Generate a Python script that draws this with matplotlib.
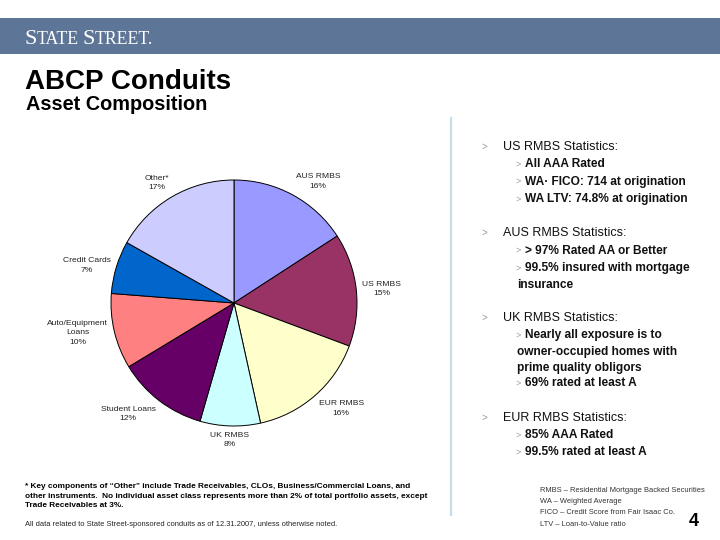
import matplotlib
matplotlib.use("Agg")
import numpy as np
from matplotlib import pyplot as plt
from matplotlib.patches import Rectangle

plt.rcParams['font.family'] = ['Liberation Sans', 'DejaVu Sans']

# pie data (clockwise from 12 o'clock)
categories = ['AUS RMBS', 'US RMBS', 'EUR RMBS', 'UK RMBS', 'Student Loans',
              'Auto/Equipment\nLoans', 'Credit Cards', 'Other*']
shares = [16, 15, 16, 8, 12, 10, 7, 17]
colors = ['#9999ff', '#993366', '#ffffcc', '#ccffff', '#660066',
          '#ff8080', '#0066cc', '#ccccff']

# right hand column: (kind, text)
stats = [
    ('head', 'US RMBS Statistics:'),
    ('sub', 'All AAA Rated'),
    ('sub', 'WA\u00b7 FICO: 714 at origination'),
    ('sub', 'WA LTV: 74.8% at origination'),
    ('gap', ''),
    ('head', 'AUS RMBS Statistics:'),
    ('sub', '> 97% Rated AA or Better'),
    ('sub', '99.5% insured with mortgage'),
    ('cont', 'insurance'),
    ('gap', ''),
    ('head', 'UK RMBS Statistics:'),
    ('sub', 'Nearly all exposure is to'),
    ('cont', 'owner-occupied homes with'),
    ('cont', 'prime quality obligors'),
    ('sub', '69% rated at least A'),
    ('gap', ''),
    ('head', 'EUR RMBS Statistics:'),
    ('sub', '85% AAA Rated'),
    ('sub', '99.5% rated at least A'),
]

footnote = ('* Key components of \u201cOther\u201d include Trade Receivables, CLOs, Business/Commercial Loans, and\n'
            'other instruments.  No individual asset class represents more than 2% of total portfolio assets, except\n'
            'Trade Receivables at 3%.')
datenote = 'All data related to State Street-sponsored conduits as of 12.31.2007, unless otherwise noted.'
glossary = ['RMBS \u2013 Residential Mortgage Backed Securities',
            'WA \u2013 Weighted Average',
            'FICO \u2013 Credit Score from Fair Isaac Co.',
            'LTV \u2013 Loan-to-Value ratio']

W, H = 720, 540
fig = plt.figure(figsize=(7.2, 5.4), dpi=100)


def px(x, y):
    return x / W, 1 - y / H


# header band
fig.patches.append(Rectangle((0, 1 - 54 / H), 1, 36 / H, transform=fig.transFigure,
                             facecolor='#5d7596', edgecolor='none'))
serif = ['Liberation Serif', 'DejaVu Serif']
fig.text(*px(25, 37), 'S', color='white', fontsize=16, family=serif, va='center_baseline')
fig.text(*px(37, 37), 'TATE', color='white', fontsize=12.8, family=serif, va='center_baseline')
fig.text(*px(83, 37), 'S', color='white', fontsize=16, family=serif, va='center_baseline')
fig.text(*px(95, 37), 'TREET.', color='white', fontsize=12.8, family=serif, va='center_baseline')

# titles
fig.text(*px(25, 89), 'ABCP Conduits', fontsize=20, fontweight='bold', va='baseline')
fig.text(*px(26, 110), 'Asset Composition', fontsize=14.3, fontweight='bold', va='baseline')

# pie
ax = fig.add_axes([111 / W, (H - 426) / H, 246 / W, 246 / H])
wedges, _ = ax.pie(shares, colors=colors, startangle=90, counterclock=False,
                   wedgeprops=dict(edgecolor='black', linewidth=0.7))
# excel style labels: box corner nearest the pie sits just outside the rim
for w, c, s in zip(wedges, categories, shares):
    ang = np.deg2rad((w.theta1 + w.theta2) / 2)
    cx, cy = np.cos(ang), np.sin(ang)
    ha = 'left' if cx > 0.3 else ('right' if cx < -0.3 else 'center')
    va = 'bottom' if cy > 0.3 else ('top' if cy < -0.3 else 'center')
    ax.text(1.05 * cx, 1.05 * cy, f'{c}\n{s}%', ha=ha, va=va, multialignment='center',
            fontsize=6.1, color='#222222', linespacing=1.45)
ax.set_xlim(-1, 1)
ax.set_ylim(-1, 1)
ax.axis('off')

# separator
fig.add_artist(plt.Line2D([451 / W, 451 / W], [1 - 118 / H, 1 - 515 / H], transform=fig.transFigure,
                          color='#c8dde9', linewidth=1.6))

# stats column
y = 147
for kind, txt in stats:
    if kind == 'gap':
        y += 17
        continue
    if kind == 'head':
        fig.text(*px(482, y), '>', fontsize=7, color='#9a9aa8', va='center')
        fig.text(*px(503, y), txt, fontsize=9, color='#111111', va='center')
    elif kind == 'sub':
        fig.text(*px(515, y), '>', fontsize=6.5, color='#9a9aa8', va='center')
        fig.text(*px(525, y), txt, fontsize=8.6, fontweight='bold', color='#111111', va='center')
    else:
        fig.text(*px(517, y), txt, fontsize=8.6, fontweight='bold', color='#111111', va='center')
    y += 17.3 if kind != 'cont' else 15.5

# footnotes
fig.text(*px(25, 483), footnote, fontsize=5.95, fontweight='bold', va='top', linespacing=1.5)
fig.text(*px(25, 524), datenote, fontsize=5.4, va='center', color='#222222')
for i, g in enumerate(glossary):
    fig.text(*px(540, 490 + i * 11.5), g, fontsize=5.4, va='center', color='#333333')
fig.text(*px(694, 521), '4', fontsize=13, fontweight='bold', va='center', ha='center')

fig.savefig('out.png', dpi=100)
